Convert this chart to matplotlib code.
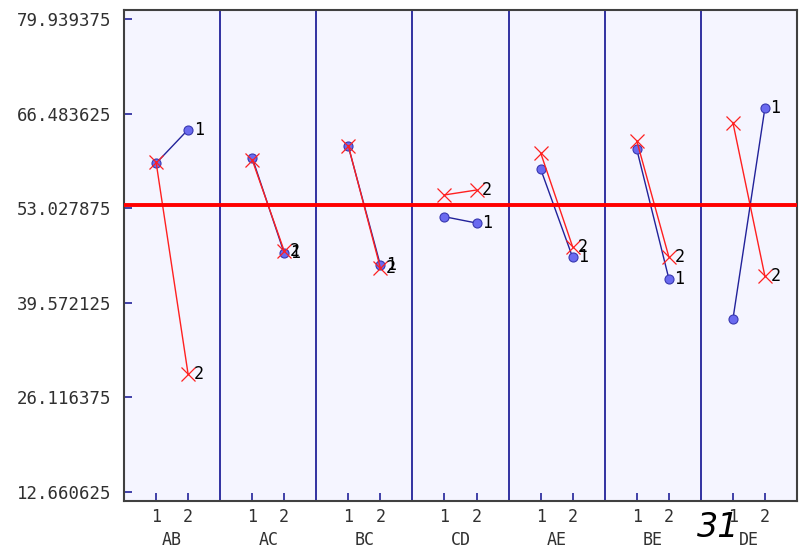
import matplotlib
matplotlib.use("Agg")
import matplotlib.pyplot as plt
import numpy as np

# interaction plot data
panels = ["AB", "AC", "BC", "CD", "AE", "BE", "DE"]
level1 = [[59.4, 64.2], [60.2, 46.6], [61.8, 44.9], [51.8, 50.9],
          [58.6, 46.0], [61.4, 43.0], [37.2, 67.3]]
level2 = [[59.6, 29.4], [59.9, 46.9], [61.9, 44.5], [54.9, 55.6],
          [60.9, 47.5], [62.6, 46.1], [65.2, 43.3]]
grand_mean = 53.4
ytick_vals = [12.660625, 26.116375, 39.572125, 53.027875, 66.483625, 79.939375]
ytick_labels = ["12.660625", "26.116375", "39.572125", "53.027875",
                "66.483625", "79.939375"]
level_labels = ["1", "2"]

mono = "DejaVu Sans Mono"
txt_col = "#303030"
navy = "#22229a"

fig = plt.figure(figsize=(8.01, 5.48), dpi=100)
ax = fig.add_axes([124 / 801, 47 / 548, 673 / 801, 491 / 548])
ax.set_facecolor("#f5f5ff")

n = len(panels)
xt = []
for i in range(n):
    x = [3 * i + 1, 3 * i + 2]
    xt += x
    ax.plot(x, level1[i], color=navy, lw=1.0, marker="o", ms=6.5,
            mfc="#6a6af0", mec="#3838b0", mew=0.8, zorder=3)
    ax.plot(x, level2[i], color="#ff2020", lw=1.0, marker="x", ms=10,
            mew=0.9, zorder=4)
    ax.annotate("1", (x[1], level1[i][1]), xytext=(4, 0), textcoords="offset points",
                va="center", ha="left", fontsize=12, family=mono, color="black", zorder=5)
    ax.annotate("2", (x[1], level2[i][1]), xytext=(4, 0), textcoords="offset points",
                va="center", ha="left", fontsize=12, family=mono, color="black", zorder=5)
    ax.text(3 * i + 1.5, -0.08, panels[i], transform=ax.get_xaxis_transform(),
            ha="center", va="center", fontsize=12, family=mono, color=txt_col)
    if i > 0:
        ax.axvline(3 * i, color=navy, lw=1.3, zorder=2)

ax.axhline(grand_mean, color="#ff0000", lw=2.8, zorder=6)

ax.set_xlim(0, 3 * n)
ax.set_ylim(11.34, 81.22)
ax.set_yticks(ytick_vals)
ax.set_yticklabels(ytick_labels, family=mono, fontsize=12.5, color=txt_col)
ax.set_xticks(xt)
ax.set_xticklabels(level_labels * n, family=mono, fontsize=12, color=txt_col)
ax.tick_params(axis="y", direction="in", length=6, width=1.2, color=navy, pad=9)
ax.tick_params(axis="x", direction="in", length=6, width=1.2, color=navy, pad=5)
for s in ax.spines.values():
    s.set_color("#404040")
    s.set_linewidth(1.5)

fig.text(697 / 801, 11 / 548, "31", fontsize=24, style="italic",
         ha="left", va="baseline", color="black")

fig.savefig("out.png", dpi=100)
